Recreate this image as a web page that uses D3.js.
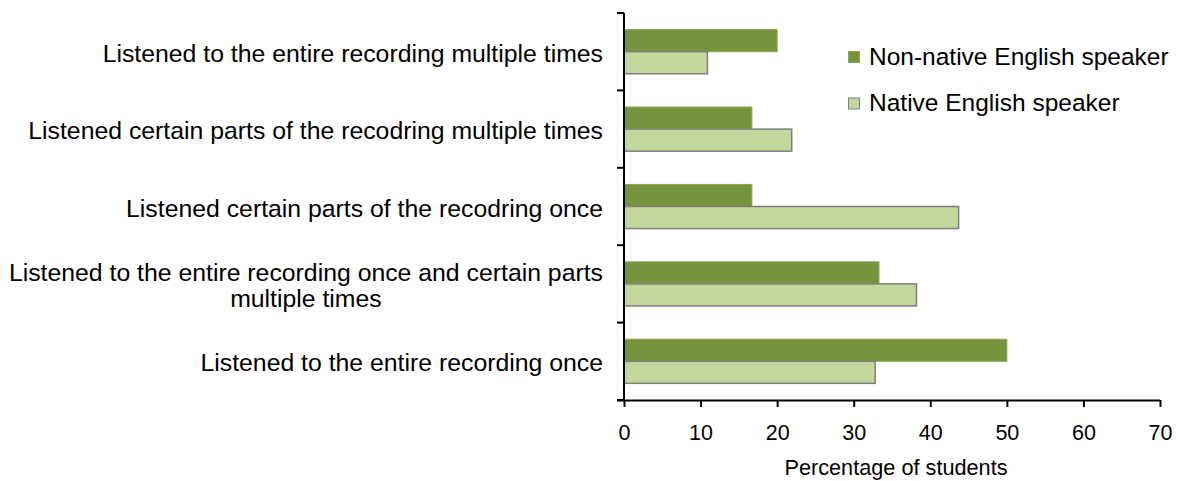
<!DOCTYPE html>
<html>
<head>
<meta charset="utf-8">
<script src="https://cdn.jsdelivr.net/npm/d3@7"></script>
<style>
  body { margin: 0; background: #fff; }
  text { font-family: "Liberation Sans", Arial, sans-serif; fill: #000; }
</style>
</head>
<body>
<div id="chart"></div>
<script>
// data, top category first
var categories = [
    ["Listened to the entire recording multiple times"],
    ["Listened certain parts of the recodring multiple times"],
    ["Listened certain parts of the recodring once"],
    ["Listened to the entire recording once and certain parts", "multiple times"],
    ["Listened to the entire recording once"]
];
var nonNative = [20, 16.7, 16.7, 33.3, 50];
var native = [10.9, 21.9, 43.7, 38.2, 32.8];
var seriesNames = ["Non-native English speaker", "Native English speaker"];
var xTicks = [0, 10, 20, 30, 40, 50, 60, 70];

var svgWidth = 1184;
var svgHeight = 481;
var margin = { top: 13, right: 24, bottom: 81, left: 624 };
var chartWidth = svgWidth - margin.left - margin.right;
var chartHeight = svgHeight - margin.top - margin.bottom;

var svg = d3.select("#chart").append("svg")
    .attr("width", svgWidth)
    .attr("height", svgHeight);

var g = svg.append("g")
    .attr("transform", `translate(${margin.left}, ${margin.top})`);

var x = d3.scaleLinear().domain([0, 70]).range([0, chartWidth]);
var y = d3.scaleBand().domain(d3.range(categories.length)).range([0, chartHeight]).paddingInner(0.43).paddingOuter(0.215);

var rows = categories.map((c, i) => ({ i: i, vals: [nonNative[i], native[i]] }));
var colors = ["#77933C", "#C3D69B"];
var strokes = ["#8AA54E", "#7F7F7F"];

var sub = d3.scaleBand().domain([0, 1]).range([0, y.bandwidth()]);

rows.forEach(function(r) {
    g.selectAll(null)
        .data(r.vals)
        .enter()
        .append("rect")
        .attr("x", 0)
        .attr("y", (d, k) => y(r.i) + sub(k))
        .attr("width", d => x(d))
        .attr("height", sub.bandwidth())
        .attr("fill", (d, k) => colors[k])
        .attr("stroke", (d, k) => strokes[k])
        .attr("stroke-width", (d, k) => k == 1 ? 1.5 : 1);
});

// x axis
var xAxis = g.append("g")
    .attr("transform", `translate(0, ${chartHeight})`)
    .call(d3.axisBottom(x).tickValues(xTicks).tickSize(7).tickSizeOuter(0));
xAxis.select(".domain").attr("stroke", "#000").attr("stroke-width", 2)
    .attr("d", `M-7,0.5H${chartWidth}`);
xAxis.selectAll(".tick line").attr("stroke", "#000").attr("stroke-width", 2);
xAxis.selectAll(".tick text")
    .attr("y", 40).attr("dy", null)
    .style("font-size", "21.5px")
    .style("font-family", "Liberation Sans, Arial, sans-serif");

// y axis: ticks at category boundaries
var yBound = d3.range(categories.length + 1).map(i => i * chartHeight / categories.length);
var yAxis = g.append("g");
yAxis.append("line").attr("x1", 0).attr("x2", 0).attr("y1", 0).attr("y2", chartHeight)
    .attr("stroke", "#000").attr("stroke-width", 2);
yAxis.selectAll(".yt").data(yBound).enter().append("line")
    .attr("x1", -7).attr("x2", 0).attr("y1", d => d).attr("y2", d => d)
    .attr("stroke", "#000").attr("stroke-width", 2);

// category labels
rows.forEach(function(r) {
    var lines = categories[r.i];
    var cy = y(r.i) + y.bandwidth() / 2;
    var t = g.append("text")
        .attr("text-anchor", "middle")
        .style("font-size", "24.8px");
    lines.forEach(function(l, k) {
        t.append("tspan").text(l);
    });
    var w = d3.max(t.selectAll("tspan").nodes(), n => n.getComputedTextLength());
    var cx = -21 - w / 2;
    var lh = 26;
    t.selectAll("tspan")
        .attr("x", cx)
        .attr("y", (d, k) => cy + 10 + (k - (lines.length - 1) / 2) * lh);
});

// axis title
g.append("text")
    .attr("x", chartWidth / 2 + 4)
    .attr("y", chartHeight + 75)
    .attr("text-anchor", "middle")
    .style("font-size", "21.7px")
    .text("Percentage of students");

// legend
var legend = svg.append("g").attr("transform", "translate(848, 51)");
seriesNames.forEach(function(name, k) {
    legend.append("rect")
        .attr("x", 0.5).attr("y", k * 46.5 + 0.5)
        .attr("width", 11).attr("height", 11)
        .attr("fill", colors[k])
        .attr("stroke", strokes[k]);
    legend.append("text")
        .attr("x", 21).attr("y", k * 46.5 + 13.5)
        .style("font-size", "24.5px")
        .text(name);
});
</script>
</body>
</html>
